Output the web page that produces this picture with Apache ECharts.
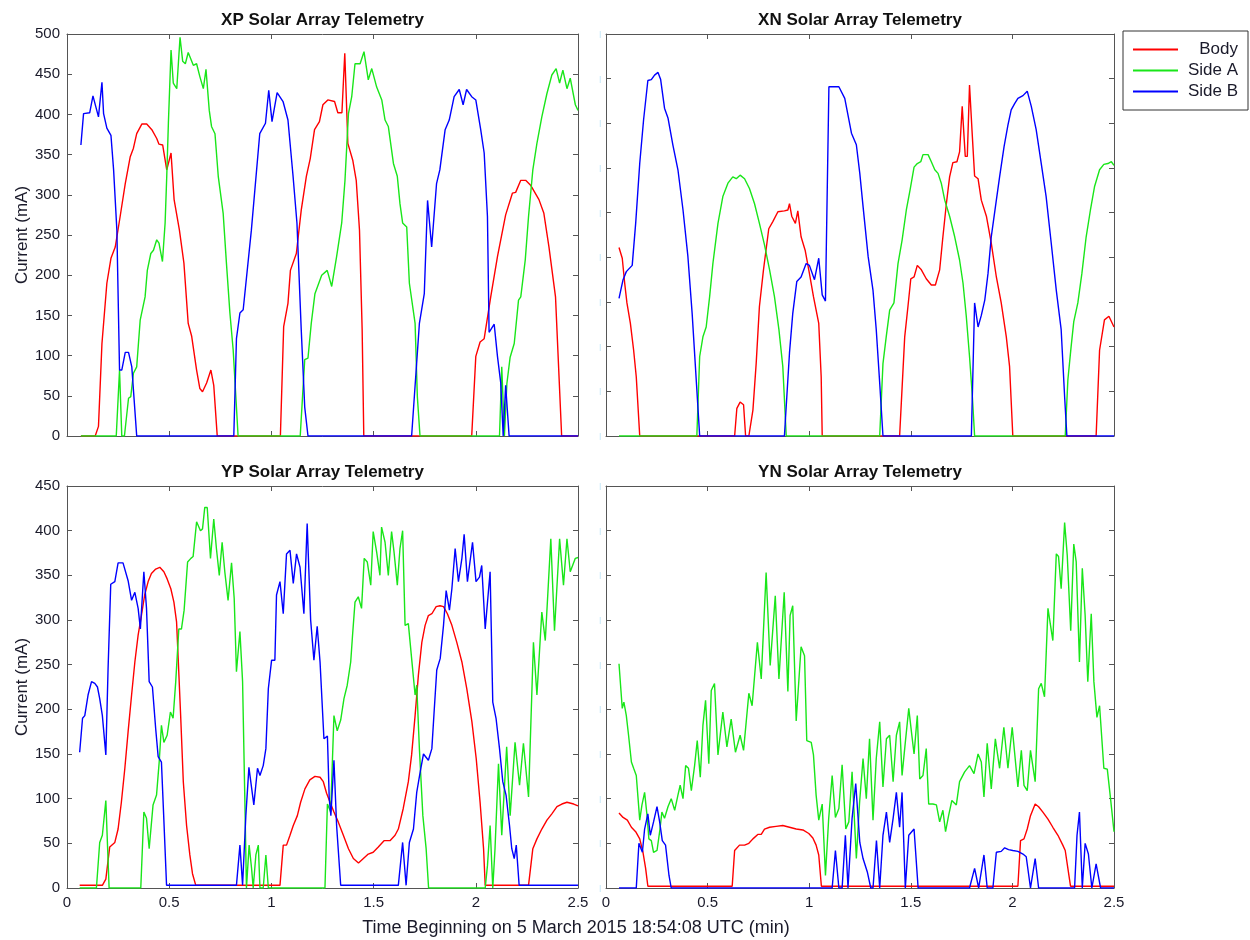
<!DOCTYPE html>
<html>
<head>
<meta charset="utf-8">
<script src="https://cdn.jsdelivr.net/npm/echarts@6/dist/echarts.min.js"></script>
<style>
  html, body { margin: 0; background: #fff; }
  #chart { width: 1250px; height: 940px; }
</style>
</head>
<body>
<div id="chart"></div>
<script>
// panel titles, series names, axis text
const panelTitles = ['XP Solar Array Telemetry', 'XN Solar Array Telemetry', 'YP Solar Array Telemetry', 'YN Solar Array Telemetry'];
const seriesNames = ['Body', 'Side A', 'Side B'];
const yName = 'Current (mA)';
const xName = 'Time Beginning on 5 March 2015 18:54:08 UTC (min)';
const yMax = [500, 450, 450, 450];

// [time (min), current]
const xpBody = [[0.068,0],[0.138,0],[0.154,12],[0.171,115],[0.195,190],[0.215,221],[0.236,235],[0.260,273],[0.285,314],[0.309,347],[0.325,358],[0.341,376],[0.366,388],[0.390,388],[0.415,381],[0.439,370],[0.450,363],[0.468,362],[0.488,331],[0.509,352],[0.524,294],[0.550,256],[0.572,215],[0.593,140],[0.610,124],[0.634,82],[0.650,59],[0.663,55],[0.683,66],[0.704,82],[0.718,63],[0.735,0],[1.044,0],[1.060,136],[1.081,165],[1.093,206],[1.122,227],[1.146,281],[1.171,323],[1.190,345],[1.211,381],[1.235,391],[1.252,412],[1.276,418],[1.309,416],[1.325,402],[1.345,402],[1.359,476],[1.374,364],[1.398,343],[1.415,318],[1.431,256],[1.444,132],[1.452,0],[1.980,0],[2.000,99],[2.021,117],[2.041,121],[2.073,173],[2.106,223],[2.146,275],[2.179,302],[2.195,303],[2.220,318],[2.244,318],[2.268,312],[2.309,294],[2.333,277],[2.358,235],[2.390,173],[2.420,0],[2.5,0]];
const xpSideA = [[0.068,0],[0.241,0],[0.257,82],[0.268,0],[0.281,0],[0.301,47],[0.312,49],[0.325,78],[0.341,86],[0.358,144],[0.382,173],[0.393,206],[0.410,227],[0.423,231],[0.439,244],[0.450,240],[0.467,217],[0.480,265],[0.488,323],[0.496,389],[0.509,480],[0.520,439],[0.537,432],[0.553,496],[0.566,466],[0.579,463],[0.593,477],[0.618,461],[0.634,463],[0.650,447],[0.667,432],[0.680,456],[0.696,405],[0.707,385],[0.724,376],[0.740,323],[0.764,277],[0.780,215],[0.797,153],[0.813,107],[0.837,0],[1.141,0],[1.163,95],[1.179,97],[1.195,140],[1.213,177],[1.246,200],[1.273,206],[1.295,186],[1.319,223],[1.344,265],[1.360,318],[1.377,401],[1.393,422],[1.409,463],[1.434,463],[1.453,478],[1.474,443],[1.491,457],[1.515,434],[1.540,418],[1.556,393],[1.572,385],[1.597,339],[1.616,323],[1.629,289],[1.642,265],[1.662,260],[1.675,190],[1.703,140],[1.714,49],[1.727,0],[2.116,0],[2.127,86],[2.140,0],[2.152,65],[2.168,98],[2.188,115],[2.209,169],[2.220,173],[2.242,219],[2.258,273],[2.279,331],[2.299,364],[2.323,397],[2.348,426],[2.372,449],[2.393,457],[2.410,439],[2.426,455],[2.446,432],[2.462,445],[2.487,412],[2.5,405]];
const xpSideB = [[0.068,362],[0.081,401],[0.111,402],[0.127,423],[0.154,397],[0.171,440],[0.179,401],[0.195,383],[0.215,374],[0.228,331],[0.244,256],[0.257,82],[0.268,82],[0.285,104],[0.301,104],[0.317,86],[0.341,0],[0.816,0],[0.829,121],[0.846,153],[0.862,157],[0.902,256],[0.943,376],[0.971,389],[0.987,430],[1.003,391],[1.028,427],[1.057,416],[1.081,393],[1.106,323],[1.125,265],[1.146,132],[1.163,36],[1.179,0],[1.686,0],[1.724,140],[1.748,177],[1.764,293],[1.784,235],[1.808,314],[1.824,331],[1.850,381],[1.870,393],[1.894,422],[1.919,431],[1.938,412],[1.955,431],[1.980,422],[2.000,418],[2.024,381],[2.041,352],[2.057,273],[2.065,129],[2.090,139],[2.106,99],[2.122,66],[2.134,0],[2.146,63],[2.163,0],[2.5,0]];

const xnBody = [[0.064,211],[0.080,199],[0.092,171],[0.103,149],[0.120,126],[0.136,96],[0.149,66],[0.166,0],[0.633,0],[0.644,31],[0.660,38],[0.677,35],[0.687,0],[0.703,0],[0.723,29],[0.739,81],[0.755,145],[0.775,186],[0.801,232],[0.821,240],[0.846,251],[0.878,252],[0.895,253],[0.903,260],[0.914,246],[0.932,238],[0.944,252],[0.960,223],[0.980,208],[1.001,182],[1.021,156],[1.047,126],[1.059,66],[1.064,0],[1.445,0],[1.470,111],[1.486,145],[1.500,176],[1.516,178],[1.532,191],[1.552,186],[1.576,176],[1.601,169],[1.621,169],[1.642,186],[1.658,223],[1.675,260],[1.691,290],[1.707,306],[1.727,307],[1.740,318],[1.753,369],[1.768,313],[1.778,313],[1.789,393],[1.801,343],[1.814,291],[1.831,288],[1.847,264],[1.872,246],[1.896,216],[1.921,178],[1.945,149],[1.970,111],[1.986,78],[2.002,0],[2.412,0],[2.429,96],[2.453,130],[2.475,134],[2.5,122]];
const xnSideA = [[0.064,0],[0.447,0],[0.461,89],[0.477,111],[0.493,122],[0.510,156],[0.526,193],[0.551,238],[0.575,268],[0.600,283],[0.624,290],[0.641,288],[0.660,292],[0.682,288],[0.706,277],[0.731,260],[0.755,238],[0.780,214],[0.805,186],[0.829,156],[0.851,119],[0.870,78],[0.887,0],[1.347,0],[1.363,81],[1.379,111],[1.396,141],[1.417,149],[1.437,193],[1.457,219],[1.478,253],[1.496,275],[1.516,301],[1.532,305],[1.549,307],[1.560,315],[1.585,315],[1.601,307],[1.618,298],[1.634,294],[1.650,283],[1.667,264],[1.691,246],[1.716,223],[1.740,197],[1.757,171],[1.773,134],[1.789,89],[1.803,44],[1.814,0],[2.260,0],[2.273,63],[2.289,100],[2.302,128],[2.322,149],[2.342,182],[2.363,223],[2.384,253],[2.404,279],[2.429,298],[2.450,304],[2.470,305],[2.487,307],[2.5,303]];
const xnSideB = [[0.064,154],[0.084,175],[0.100,184],[0.129,191],[0.146,238],[0.166,305],[0.185,354],[0.206,398],[0.223,399],[0.239,404],[0.256,407],[0.269,399],[0.288,367],[0.305,356],[0.329,326],[0.354,298],[0.379,253],[0.403,201],[0.424,137],[0.444,63],[0.461,0],[0.878,0],[0.903,93],[0.919,137],[0.939,173],[0.960,178],[0.985,193],[1.001,191],[1.026,175],[1.047,199],[1.064,158],[1.080,151],[1.097,391],[1.146,391],[1.175,378],[1.208,339],[1.232,326],[1.249,294],[1.265,257],[1.290,201],[1.314,163],[1.330,119],[1.347,59],[1.363,0],[1.798,0],[1.814,149],[1.831,122],[1.847,135],[1.864,152],[1.880,182],[1.896,223],[1.921,264],[1.937,290],[1.959,324],[1.978,348],[1.994,365],[2.011,372],[2.027,378],[2.052,381],[2.073,386],[2.093,369],[2.117,343],[2.142,305],[2.166,268],[2.191,216],[2.216,163],[2.240,119],[2.257,44],[2.268,0],[2.5,0]];

const ypBody = [[0.062,3],[0.173,3],[0.190,10],[0.209,46],[0.234,51],[0.250,66],[0.266,96],[0.283,134],[0.299,175],[0.316,216],[0.332,253],[0.348,283],[0.364,305],[0.380,328],[0.397,343],[0.413,352],[0.434,357],[0.454,359],[0.474,354],[0.490,346],[0.508,335],[0.523,320],[0.536,298],[0.544,257],[0.556,193],[0.569,119],[0.585,70],[0.601,37],[0.614,16],[0.630,3],[1.042,3],[1.058,48],[1.074,48],[1.091,59],[1.107,70],[1.127,81],[1.143,96],[1.164,111],[1.188,121],[1.213,125],[1.238,124],[1.254,119],[1.270,106],[1.287,96],[1.306,85],[1.327,74],[1.352,59],[1.377,44],[1.401,33],[1.426,28],[1.450,33],[1.474,38],[1.498,40],[1.523,46],[1.551,53],[1.580,53],[1.605,59],[1.621,66],[1.645,89],[1.670,119],[1.686,149],[1.703,193],[1.719,238],[1.736,275],[1.752,294],[1.768,305],[1.785,307],[1.806,315],[1.825,316],[1.842,315],[1.861,307],[1.883,294],[1.907,275],[1.932,253],[1.956,223],[1.981,186],[2.002,145],[2.021,96],[2.038,44],[2.046,3],[2.258,3],[2.279,44],[2.299,55],[2.323,66],[2.348,76],[2.372,83],[2.397,91],[2.421,94],[2.446,96],[2.479,94],[2.5,92]];
const ypSideA = [[0.062,0],[0.144,0],[0.160,51],[0.173,59],[0.190,98],[0.206,0],[0.361,0],[0.376,85],[0.389,78],[0.402,44],[0.421,93],[0.438,104],[0.451,141],[0.462,182],[0.474,163],[0.490,171],[0.506,197],[0.519,190],[0.532,231],[0.547,290],[0.560,290],[0.573,311],[0.590,365],[0.606,369],[0.617,371],[0.634,410],[0.653,400],[0.663,402],[0.674,426],[0.686,426],[0.702,369],[0.718,413],[0.731,380],[0.745,350],[0.759,387],[0.772,354],[0.788,322],[0.805,364],[0.818,324],[0.829,242],[0.846,287],[0.859,231],[0.870,100],[0.878,0],[0.891,48],[0.903,22],[0.911,0],[0.924,37],[0.936,48],[0.944,0],[0.960,0],[0.973,37],[0.985,0],[1.262,0],[1.274,94],[1.290,85],[1.306,193],[1.322,176],[1.339,188],[1.355,212],[1.371,227],[1.388,253],[1.397,283],[1.409,320],[1.425,326],[1.441,313],[1.454,369],[1.469,365],[1.486,339],[1.498,399],[1.515,376],[1.531,350],[1.539,404],[1.556,387],[1.572,350],[1.588,399],[1.600,376],[1.616,339],[1.629,380],[1.642,400],[1.654,294],[1.670,296],[1.686,257],[1.703,216],[1.711,227],[1.724,156],[1.741,81],[1.757,44],[1.769,0],[2.046,0],[2.057,25],[2.070,70],[2.083,0],[2.094,44],[2.111,139],[2.127,59],[2.151,158],[2.168,81],[2.192,163],[2.214,115],[2.233,162],[2.258,102],[2.282,275],[2.299,216],[2.323,309],[2.340,277],[2.367,391],[2.385,288],[2.410,391],[2.429,339],[2.446,391],[2.462,354],[2.487,369],[2.5,370]];
const ypSideB = [[0.062,152],[0.076,190],[0.087,193],[0.103,216],[0.120,231],[0.136,229],[0.149,225],[0.160,212],[0.173,193],[0.190,149],[0.201,246],[0.214,340],[0.234,343],[0.250,364],[0.274,364],[0.299,344],[0.316,322],[0.332,331],[0.348,313],[0.359,290],[0.376,354],[0.389,313],[0.402,231],[0.418,225],[0.434,178],[0.446,147],[0.462,141],[0.473,81],[0.487,3],[0.829,3],[0.846,48],[0.859,3],[0.875,81],[0.890,135],[0.914,93],[0.932,134],[0.944,126],[0.960,137],[0.973,156],[0.985,223],[1.001,255],[1.017,255],[1.025,328],[1.042,343],[1.058,307],[1.074,374],[1.091,378],[1.107,341],[1.123,374],[1.140,359],[1.159,307],[1.175,408],[1.192,300],[1.208,255],[1.224,293],[1.238,253],[1.257,167],[1.274,170],[1.283,100],[1.291,81],[1.306,143],[1.319,70],[1.339,3],[1.621,3],[1.642,51],[1.659,3],[1.675,51],[1.695,66],[1.711,107],[1.728,130],[1.744,150],[1.768,143],[1.785,156],[1.796,197],[1.809,244],[1.826,257],[1.842,294],[1.855,333],[1.871,311],[1.883,335],[1.899,380],[1.915,343],[1.932,369],[1.943,396],[1.959,343],[1.984,387],[2.001,343],[2.018,348],[2.029,361],[2.046,290],[2.054,290],[2.070,354],[2.083,208],[2.099,190],[2.116,156],[2.132,119],[2.148,104],[2.165,70],[2.176,44],[2.188,33],[2.198,48],[2.212,3],[2.5,3]];

const ynBody = [[0.064,84],[0.084,79],[0.105,76],[0.125,68],[0.146,63],[0.166,55],[0.182,40],[0.195,22],[0.206,2],[0.621,2],[0.633,42],[0.657,48],[0.682,48],[0.703,50],[0.723,55],[0.747,60],[0.764,60],[0.780,66],[0.805,68],[0.837,69],[0.870,70],[0.903,68],[0.936,66],[0.969,65],[0.998,61],[1.018,56],[1.034,48],[1.047,37],[1.060,2],[2.027,2],[2.040,53],[2.057,55],[2.073,66],[2.089,81],[2.112,94],[2.129,91],[2.150,85],[2.175,77],[2.199,68],[2.224,59],[2.248,48],[2.260,42],[2.273,22],[2.286,2],[2.5,2]];
const ynSideA = [[0.064,251],[0.080,201],[0.088,208],[0.100,193],[0.111,171],[0.125,141],[0.136,134],[0.149,126],[0.166,76],[0.177,93],[0.190,107],[0.202,81],[0.211,55],[0.223,53],[0.234,40],[0.251,42],[0.264,63],[0.275,85],[0.288,78],[0.305,91],[0.321,100],[0.338,87],[0.354,104],[0.365,115],[0.379,100],[0.392,137],[0.406,134],[0.420,109],[0.436,137],[0.449,165],[0.464,124],[0.477,182],[0.490,210],[0.506,139],[0.518,221],[0.534,229],[0.551,149],[0.575,197],[0.595,158],[0.616,189],[0.637,152],[0.660,171],[0.677,154],[0.703,218],[0.719,204],[0.745,275],[0.764,234],[0.788,353],[0.808,249],[0.833,327],[0.851,234],[0.877,331],[0.895,220],[0.906,305],[0.919,316],[0.936,187],[0.960,270],[0.977,260],[0.988,165],[1.010,163],[1.021,149],[1.034,104],[1.047,76],[1.064,94],[1.080,14],[1.096,78],[1.113,126],[1.129,79],[1.146,89],[1.162,138],[1.180,66],[1.195,74],[1.211,130],[1.232,33],[1.248,96],[1.265,145],[1.281,100],[1.297,167],[1.314,76],[1.330,145],[1.347,186],[1.363,113],[1.380,167],[1.396,171],[1.413,119],[1.429,171],[1.445,186],[1.457,126],[1.473,163],[1.490,201],[1.503,175],[1.516,150],[1.532,193],[1.544,122],[1.560,126],[1.576,156],[1.588,94],[1.609,94],[1.626,93],[1.642,74],[1.658,87],[1.671,63],[1.686,81],[1.702,98],[1.724,93],[1.740,119],[1.765,130],[1.789,137],[1.811,128],[1.831,150],[1.847,141],[1.860,102],[1.876,162],[1.896,111],[1.916,167],[1.937,134],[1.958,180],[1.978,134],[1.999,180],[2.027,113],[2.044,154],[2.057,115],[2.073,109],[2.089,154],[2.112,119],[2.129,223],[2.142,229],[2.158,214],[2.175,313],[2.199,277],[2.216,374],[2.227,371],[2.240,335],[2.257,409],[2.270,372],[2.287,288],[2.302,385],[2.314,365],[2.330,253],[2.344,358],[2.358,305],[2.371,231],[2.388,307],[2.401,231],[2.416,191],[2.429,204],[2.450,134],[2.467,133],[2.483,100],[2.5,63]];
const ynSideB = [[0.064,0],[0.149,0],[0.162,50],[0.179,40],[0.190,66],[0.206,83],[0.218,59],[0.234,74],[0.251,91],[0.264,74],[0.277,53],[0.293,48],[0.310,14],[0.321,0],[1.113,0],[1.129,42],[1.146,0],[1.162,0],[1.178,59],[1.191,0],[1.211,78],[1.229,117],[1.249,51],[1.265,33],[1.286,18],[1.303,0],[1.314,0],[1.331,53],[1.347,0],[1.363,59],[1.380,85],[1.396,51],[1.413,78],[1.429,107],[1.445,68],[1.457,107],[1.473,0],[1.490,59],[1.516,66],[1.536,0],[1.789,0],[1.814,22],[1.834,0],[1.860,37],[1.876,0],[1.904,0],[1.921,40],[1.945,41],[1.962,45],[1.981,43],[2.002,42],[2.027,41],[2.052,38],[2.068,35],[2.089,0],[2.112,33],[2.129,0],[2.306,0],[2.318,59],[2.330,85],[2.344,0],[2.358,50],[2.374,38],[2.391,0],[2.412,27],[2.434,0],[2.5,0]];

const panels = [
  [xpBody, xpSideA, xpSideB],
  [xnBody, xnSideA, xnSideB],
  [ypBody, ypSideA, ypSideB],
  [ynBody, ynSideA, ynSideB]
];

const FONT = '"Liberation Sans", Arial, sans-serif';
const AXC = '#555';
const TXT = '#1a1a2a';
const colors = ['#ff0000', '#19e619', '#0000ff'];

const grids = [
  {left: 67, top: 34, width: 511, height: 402},
  {left: 606, top: 34, width: 508, height: 402},
  {left: 67, top: 486, width: 511, height: 402},
  {left: 606, top: 486, width: 508, height: 402}
];

let xAxes = [], yAxes = [], series = [];
grids.forEach(function (g, i) {
  ['bottom', 'top'].forEach(function (pos) {
    xAxes.push({
      gridIndex: i, type: 'value', min: 0, max: 2.5, interval: 0.5, position: pos,
      axisLine: {show: true, onZero: false, lineStyle: {color: AXC, width: 1}},
      axisTick: {show: true, inside: true, length: 5, lineStyle: {color: AXC}},
      axisLabel: {show: pos === 'bottom' && i >= 2, margin: 7, color: TXT, fontFamily: FONT, fontSize: 15},
      splitLine: {show: false}
    });
  });
  ['left', 'right'].forEach(function (pos) {
    let ax = {
      gridIndex: i, type: 'value', min: 0, max: yMax[i], interval: 50, position: pos,
      axisLine: {show: true, onZero: false, lineStyle: {color: AXC, width: 1}},
      axisTick: {show: true, inside: true, length: 5, lineStyle: {color: AXC}},
      axisLabel: {show: pos === 'left', margin: 7, color: TXT, fontFamily: FONT, fontSize: 15},
      splitLine: {show: false}
    };
    if (pos === 'left' && i % 2 === 0) {
      ax.name = yName;
      ax.nameLocation = 'middle';
      ax.nameGap = 36;
      ax.nameTextStyle = {fontFamily: FONT, fontSize: 17, color: TXT};
    }
    if (pos === 'left' && i % 2 === 1) {
      // faint leftovers of hidden labels
      ax.axisLabel = {show: true, margin: 5, formatter: function () { return '|'; }, color: '#a9dcf4', fontSize: 7, fontFamily: FONT};
    }
    yAxes.push(ax);
  });
  panels[i].forEach(function (d, k) {
    series.push({
      name: seriesNames[k], type: 'line', data: d,
      xAxisIndex: i * 2, yAxisIndex: i * 2,
      showSymbol: false, animation: false,
      lineStyle: {width: 1.4, color: colors[k]},
      itemStyle: {color: colors[k]}
    });
  });
});

let titles = panelTitles.map(function (t, i) {
  return {
    text: t, left: grids[i].left + grids[i].width / 2, top: grids[i].top - 14,
    textAlign: 'center', textVerticalAlign: 'middle', padding: 0,
    textStyle: {fontFamily: FONT, fontSize: 17, fontWeight: 'bold', color: '#111'}
  };
});
titles.push({
  text: xName, left: 576, top: 928, textAlign: 'center', textVerticalAlign: 'middle', padding: 0,
  textStyle: {fontFamily: FONT, fontSize: 18, fontWeight: 'normal', color: TXT}
});

let chart = echarts.init(document.getElementById('chart'));
chart.setOption({
  backgroundColor: '#fff',
  animation: false,
  title: titles,
  legend: {
    data: seriesNames, orient: 'vertical', left: 1123, top: 31,
    padding: [10, 10, 10, 10], itemGap: 4, itemWidth: 45, itemHeight: 2, icon: 'rect',
    borderColor: '#333', borderWidth: 1,
    formatter: function (n) { return '{t|' + n + '}'; },
    textStyle: {
      rich: {t: {width: 55, align: 'right', fontFamily: FONT, fontSize: 17, lineHeight: 20, color: TXT}}
    }
  },
  grid: grids,
  xAxis: xAxes,
  yAxis: yAxes,
  series: series
});
</script>
</body>
</html>
